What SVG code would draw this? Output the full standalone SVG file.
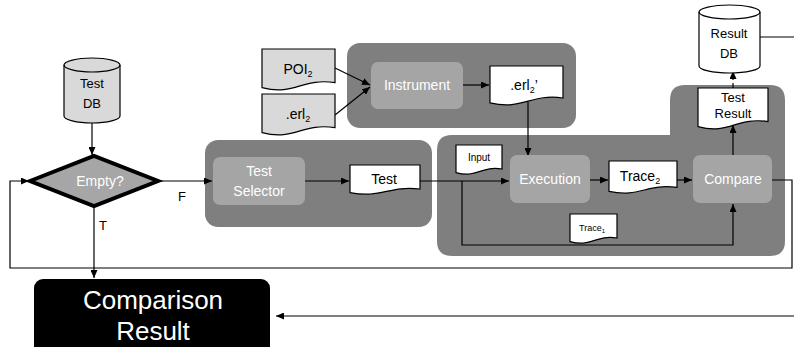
<svg xmlns="http://www.w3.org/2000/svg" width="794" height="347" viewBox="0 0 794 347">
<defs>
<marker id="ah" markerWidth="8" markerHeight="7" refX="8" refY="3.5" orient="auto" markerUnits="userSpaceOnUse">
<path d="M0,0 L8,3.5 L0,7 Z" fill="#000"/>
</marker>
<style>
text{font-family:"Liberation Sans",Arial,sans-serif;text-anchor:middle;fill:#000}
.w{fill:#fff}
.panel{fill:#7f7f7f}
.box{fill:#a5a5a5}
.doc{stroke:#000;stroke-width:1.2;fill:#fff}
.docg{stroke:#000;stroke-width:1.2;fill:#d9d9d9}
.c{fill:none;stroke:#000;stroke-width:1.2}
.ca{fill:none;stroke:#000;stroke-width:1.2;marker-end:url(#ah)}
.f14{font-size:14px}
.f13{font-size:13px}
</style>
</defs>
<rect width="794" height="347" fill="#fff"/>

<g id="panels">
<rect id="selector-panel" class="panel" x="205" y="140" width="227" height="87" rx="13"/>
<rect id="instrument-panel" class="panel" x="347" y="43" width="229" height="85" rx="13"/>
<path id="exec-panel" class="panel" d="M437,150 Q437,135 452,135 H670 V100 Q670,85 685,85 H770 Q785,85 785,100 V241 Q785,256 770,256 H452 Q437,256 437,241 Z"/>
</g>

<g id="connectors">
<path class="ca" d="M92,123 V155"/>
<path class="ca" d="M158,181 H212"/>
<path class="ca" d="M305,181 H349"/>
<path class="ca" d="M420,181 H509"/>
<path class="ca" d="M462,181 V245 H733 V204"/>
<path class="ca" d="M335,68 L370,85"/>
<path class="ca" d="M335,115 L370,87"/>
<path class="ca" d="M463,85 H489"/>
<path class="ca" d="M528,102 V156"/>
<path class="ca" d="M590,180 H608"/>
<path class="ca" d="M677,180 H692"/>
<path class="ca" d="M733,155 V125"/>
<path class="ca" d="M733,88 V71" stroke-dasharray="5,3"/>
<path class="c" d="M760,37 H794"/>
<path class="ca" d="M772,180 H792 V268 H10 V181 H29"/>
<path class="ca" d="M94,206 V278"/>
<path class="ca" d="M794,316 H276"/>
<text x="182" y="201" class="f13">F</text>
<text x="103" y="230" class="f13">T</text>
</g>

<g id="test-db">
<path d="M64,65 A28,7 0 0 1 120,65 V116 A28,7 0 0 1 64,116 Z" fill="#d9d9d9" stroke="#000" stroke-width="1.2"/>
<path d="M64,65 A28,7 0 0 0 120,65" fill="none" stroke="#000" stroke-width="1.2"/>
<text x="92" y="88" class="f13">Test</text>
<text x="92" y="108" class="f13">DB</text>
</g>

<g id="empty">
<polygon points="30,181 94,156 158,181 94,206" fill="#a6a6a6" stroke="#000" stroke-width="4" stroke-linejoin="miter"/>
<text x="100" y="186" class="f14 w">Empty?</text>
</g>

<g id="test-selector">
<rect class="box" x="213" y="157" width="92" height="48" rx="7"/>
<text x="259" y="176" class="f14 w">Test</text>
<text x="259" y="196" class="f14 w">Selector</text>
</g>

<g id="test-doc">
<path class="doc" d="M350,165 H420 V189 C388.5,185.4 381.5,198.6 350,192.6 Z"/>
<text x="384" y="184" class="f14">Test</text>
</g>

<g id="poi2">
<path class="docg" d="M262,49 H335 V82.6 C302.2,77.6 294.9,96 262,87.6 Z"/>
<text x="298" y="74" class="f14">POI<tspan font-size="9" dy="3">2</tspan></text>
</g>

<g id="erl2">
<path class="docg" d="M262,94 H335 V127.6 C302.2,122.6 294.9,141 262,132.6 Z"/>
<text x="298" y="119" class="f14">.erl<tspan font-size="9" dy="3">2</tspan></text>
</g>

<g id="instrument">
<rect class="box" x="371" y="62" width="92" height="47" rx="7"/>
<text x="417" y="90" class="f14 w">Instrument</text>
</g>

<g id="erl2p">
<path class="doc" d="M490,66 H563 V98 C530.2,93.2 522.9,110.8 490,102.8 Z"/>
<text x="524" y="90" class="f14">.erl<tspan font-size="9" dy="3">2</tspan><tspan dy="-3">’</tspan></text>
</g>

<g id="input">
<path class="doc" d="M456,145 H502 V169 C481.3,165.4 476.7,178.6 456,172.6 Z"/>
<text x="479" y="161" font-size="10">Input</text>
</g>

<g id="execution">
<rect class="box" x="510" y="155" width="80" height="48" rx="7"/>
<text x="550" y="184" class="f14 w">Execution</text>
</g>

<g id="trace2">
<path class="doc" d="M609,161 H677 V187.4 C646.4,183.4 639.6,198 609,191.4 Z"/>
<text x="640" y="181" class="f14">Trace<tspan font-size="9" dy="3">2</tspan></text>
</g>

<g id="compare">
<rect class="box" x="693" y="155" width="79" height="48" rx="7"/>
<text x="733" y="184" class="f14 w">Compare</text>
</g>

<g id="trace1">
<path class="doc" d="M570,214 H617 V238 C595.9,234.4 591.2,247.6 570,241.6 Z"/>
<text x="592" y="231" font-size="9">Trace<tspan font-size="6" dy="2">1</tspan></text>
</g>

<g id="test-result">
<path class="doc" d="M698,88 H768 V121.6 C736.5,116.6 729.5,135 698,126.6 Z"/>
<text x="733" y="102" class="f13">Test</text>
<text x="733" y="118" class="f13">Result</text>
</g>

<g id="result-db">
<path d="M699,12 A30.5,7 0 0 1 760,12 V66 A30.5,7 0 0 1 699,66 Z" fill="#fff" stroke="#000" stroke-width="1.2"/>
<path d="M699,12 A30.5,7 0 0 0 760,12" fill="none" stroke="#000" stroke-width="1.2"/>
<text x="729" y="38" class="f13">Result</text>
<text x="729" y="58" class="f13">DB</text>
</g>

<g id="comparison-result">
<rect x="34" y="279" width="236" height="80" rx="9" fill="#000"/>
<text x="153" y="309" font-size="26" class="w">Comparison</text>
<text x="153" y="340" font-size="26" class="w">Result</text>
</g>
</svg>
